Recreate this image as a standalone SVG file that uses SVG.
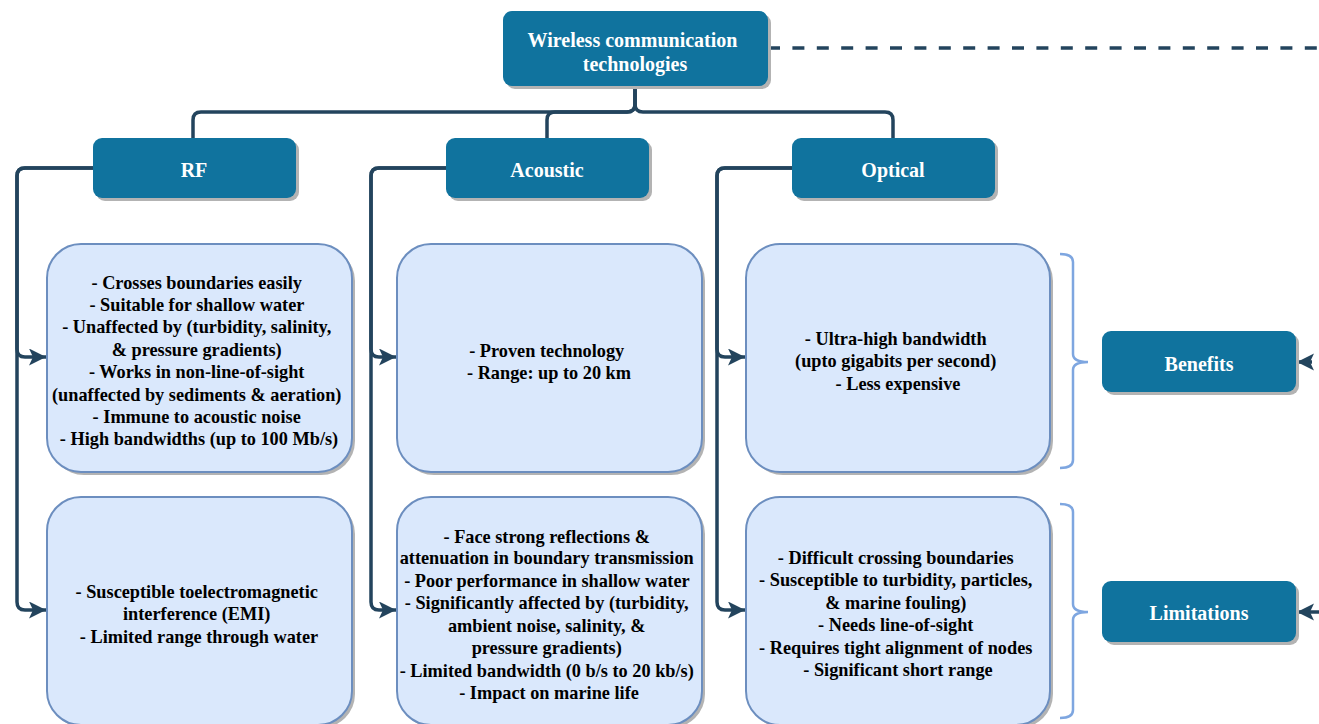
<svg xmlns="http://www.w3.org/2000/svg" width="1319" height="724" viewBox="0 0 1319 724">
  <defs>
    <marker id="arrow" markerUnits="userSpaceOnUse" markerWidth="19" markerHeight="19" refX="17" refY="8.5" orient="auto">
      <path d="M0,0 L17,8.5 L0,17 L4,8.5 Z" fill="#23445d"/>
    </marker>
    <style>
      .shadow { fill: #b3b3b3; }
      .head { fill: #10739e; }
      .card { fill: #dae8fc; stroke: #6c8ebf; stroke-width: 2; }
      .edge { fill: none; stroke: #23445d; stroke-width: 3.5; }
      .brace { fill: none; stroke: #7ea6e0; stroke-width: 2.5; }
    </style>
  </defs>

  <rect width="1319" height="724" fill="#ffffff"/>

  <!-- connectors -->
  <g id="connectors">
    <path class="edge" d="M768,48 H1319" stroke-dasharray="12 12.4"/>
    <path class="edge" d="M635,86 V104 Q635,112 627,112 H201 Q193,112 193,120 V138"/>
    <path class="edge" d="M635,86 V104 Q635,112 627,112 H555 Q547,112 547,120 V138"/>
    <path class="edge" d="M635,86 V104 Q635,112 643,112 H885 Q893,112 893,120 V138"/>

    <path class="edge" d="M93,168 H25 Q17,168 17,176 V349 Q17,357 25,357 H46" marker-end="url(#arrow)"/>
    <path class="edge" d="M93,168 H25 Q17,168 17,176 V602 Q17,610 25,610 H46" marker-end="url(#arrow)"/>
    <path class="edge" d="M446,168 H379 Q371,168 371,176 V349 Q371,357 379,357 H396" marker-end="url(#arrow)"/>
    <path class="edge" d="M446,168 H379 Q371,168 371,176 V602 Q371,610 379,610 H396" marker-end="url(#arrow)"/>
    <path class="edge" d="M792,168 H725 Q717,168 717,176 V349 Q717,357 725,357 H745" marker-end="url(#arrow)"/>
    <path class="edge" d="M792,168 H725 Q717,168 717,176 V602 Q717,610 725,610 H745" marker-end="url(#arrow)"/>

    <path class="edge" d="M1312,362 H1297" marker-end="url(#arrow)"/>
    <path class="edge" d="M1340,612 H1297" marker-end="url(#arrow)"/>

    <path class="brace" d="M1060,254 Q1073,254 1073,262 V354 Q1073,362 1088,362 Q1073,362 1073,370 V460 Q1073,468 1060,468"/>
    <path class="brace" d="M1060,504 Q1073,504 1073,512 V604 Q1073,612 1088,612 Q1073,612 1073,620 V710 Q1073,718 1060,718"/>
  </g>

  <!-- root -->
  <g id="root">
    <rect class="shadow" x="506" y="14" width="265" height="75" rx="9"/>
    <rect class="head" x="503" y="11" width="265" height="75" rx="9"/>
    <text font-family="Liberation Serif" font-weight="700" font-size="20" fill="#ffffff" text-anchor="middle">
      <tspan x="635" y="47">Wireless communication</tspan>
      <tspan x="635" y="71">technologies</tspan>
    </text>
  </g>

  <!-- technology headers -->
  <g id="rf">
    <rect class="shadow" x="96" y="141" width="203" height="60" rx="9"/>
    <rect class="head" x="93" y="138" width="203" height="60" rx="9"/>
    <text font-family="Liberation Serif" font-weight="700" font-size="20" fill="#ffffff" text-anchor="middle" x="194" y="177">RF</text>
  </g>
  <g id="acoustic">
    <rect class="shadow" x="449" y="141" width="203" height="60" rx="9"/>
    <rect class="head" x="446" y="138" width="203" height="60" rx="9"/>
    <text font-family="Liberation Serif" font-weight="700" font-size="20" fill="#ffffff" text-anchor="middle" x="547" y="177">Acoustic</text>
  </g>
  <g id="optical">
    <rect class="shadow" x="795" y="141" width="203" height="60" rx="9"/>
    <rect class="head" x="792" y="138" width="203" height="60" rx="9"/>
    <text font-family="Liberation Serif" font-weight="700" font-size="20" fill="#ffffff" text-anchor="middle" x="893" y="177">Optical</text>
  </g>

  <!-- benefit cards -->
  <g id="rf-benefits">
    <rect class="shadow" x="50" y="247" width="305" height="228" rx="34"/>
    <rect class="card" x="47" y="244" width="305" height="228" rx="34"/>
    <text font-family="Liberation Serif" font-weight="700" font-size="18.3" fill="#000000" text-anchor="middle">
      <tspan x="199" y="289">- Crosses boundaries easily</tspan>
      <tspan x="199" y="311">- Suitable for shallow water</tspan>
      <tspan x="199" y="333">- Unaffected by (turbidity, salinity,</tspan>
      <tspan x="199" y="356">&amp; pressure gradients)</tspan>
      <tspan x="199" y="378">- Works in non-line-of-sight</tspan>
      <tspan x="199" y="401">(unaffected by sediments &amp; aeration)</tspan>
      <tspan x="199" y="423">- Immune to acoustic noise</tspan>
      <tspan x="199" y="445">- High bandwidths (up to 100 Mb/s)</tspan>
    </text>
  </g>
  <g id="acoustic-benefits">
    <rect class="shadow" x="400" y="247" width="305" height="228" rx="34"/>
    <rect class="card" x="397" y="244" width="305" height="228" rx="34"/>
    <text font-family="Liberation Serif" font-weight="700" font-size="18.3" fill="#000000" text-anchor="middle">
      <tspan x="549" y="357">- Proven technology</tspan>
      <tspan x="549" y="379">- Range: up to 20 km</tspan>
    </text>
  </g>
  <g id="optical-benefits">
    <rect class="shadow" x="749" y="247" width="304" height="228" rx="34"/>
    <rect class="card" x="746" y="244" width="304" height="228" rx="34"/>
    <text font-family="Liberation Serif" font-weight="700" font-size="18.3" fill="#000000" text-anchor="middle">
      <tspan x="898" y="345">- Ultra-high bandwidth</tspan>
      <tspan x="898" y="367">(upto gigabits per second)</tspan>
      <tspan x="898" y="390">- Less expensive</tspan>
    </text>
  </g>

  <!-- limitation cards -->
  <g id="rf-limitations">
    <rect class="shadow" x="50" y="500" width="305" height="228" rx="34"/>
    <rect class="card" x="47" y="497" width="305" height="228" rx="34"/>
    <text font-family="Liberation Serif" font-weight="700" font-size="18.3" fill="#000000" text-anchor="middle">
      <tspan x="199" y="598">- Susceptible toelectromagnetic</tspan>
      <tspan x="199" y="620">interference (EMI)</tspan>
      <tspan x="199" y="643">- Limited range through water</tspan>
    </text>
  </g>
  <g id="acoustic-limitations">
    <rect class="shadow" x="400" y="500" width="305" height="228" rx="34"/>
    <rect class="card" x="397" y="497" width="305" height="228" rx="34"/>
    <text font-family="Liberation Serif" font-weight="700" font-size="18.3" fill="#000000" text-anchor="middle">
      <tspan x="549" y="543">- Face strong reflections &amp;</tspan>
      <tspan x="549" y="564">attenuation in boundary transmission</tspan>
      <tspan x="549" y="587">- Poor performance in shallow water</tspan>
      <tspan x="549" y="609">- Significantly affected by (turbidity,</tspan>
      <tspan x="549" y="632">ambient noise, salinity, &amp;</tspan>
      <tspan x="549" y="654">pressure gradients)</tspan>
      <tspan x="549" y="677">- Limited bandwidth (0 b/s to 20 kb/s)</tspan>
      <tspan x="549" y="699">- Impact on marine life</tspan>
    </text>
  </g>
  <g id="optical-limitations">
    <rect class="shadow" x="749" y="500" width="304" height="228" rx="34"/>
    <rect class="card" x="746" y="497" width="304" height="228" rx="34"/>
    <text font-family="Liberation Serif" font-weight="700" font-size="18.3" fill="#000000" text-anchor="middle">
      <tspan x="898" y="564">- Difficult crossing boundaries</tspan>
      <tspan x="898" y="586">- Susceptible to turbidity, particles,</tspan>
      <tspan x="898" y="609">&amp; marine fouling)</tspan>
      <tspan x="898" y="631">- Needs line-of-sight</tspan>
      <tspan x="898" y="654">- Requires tight alignment of nodes</tspan>
      <tspan x="898" y="676">- Significant short range</tspan>
    </text>
  </g>

  <!-- row labels -->
  <g id="benefits">
    <rect class="shadow" x="1105" y="334" width="194" height="61" rx="9"/>
    <rect class="head" x="1102" y="331" width="194" height="61" rx="9"/>
    <text font-family="Liberation Serif" font-weight="700" font-size="20" fill="#ffffff" text-anchor="middle" x="1199" y="371">Benefits</text>
  </g>
  <g id="limitations">
    <rect class="shadow" x="1105" y="584" width="194" height="61" rx="9"/>
    <rect class="head" x="1102" y="581" width="194" height="61" rx="9"/>
    <text font-family="Liberation Serif" font-weight="700" font-size="20" fill="#ffffff" text-anchor="middle" x="1199" y="620">Limitations</text>
  </g>
</svg>
